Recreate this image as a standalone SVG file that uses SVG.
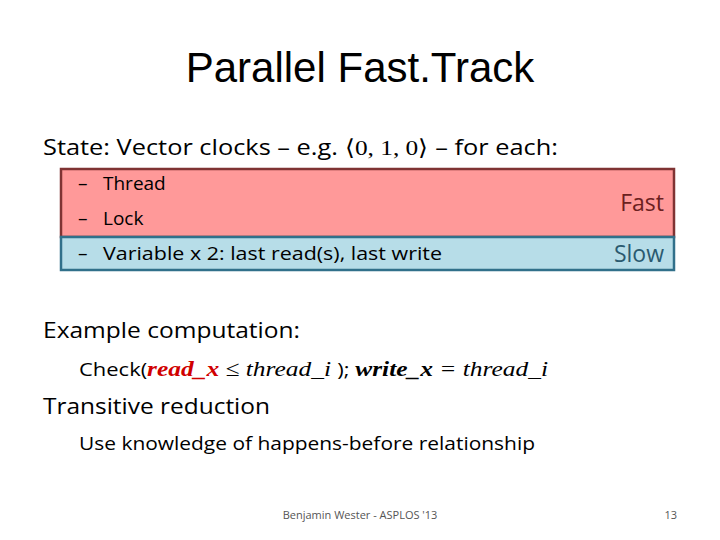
<svg xmlns="http://www.w3.org/2000/svg" width="720" height="540" viewBox="0 0 720 540">
<style>
text{font-family:"Open Sans","Liberation Sans",sans-serif;fill:#000}
.s{font-size:19px}.l{font-size:22px}.m{font-family:"Liberation Serif",serif;font-style:italic;font-size:22px}
</style>
<rect width="720" height="540" fill="#fff"/>
<text x="360" y="82" text-anchor="middle" font-size="42" style="font-family:'Liberation Sans',sans-serif">Parallel Fast.Track</text>
<text x="43" y="155" class="l" textLength="515" lengthAdjust="spacingAndGlyphs">State: Vector clocks – e.g. <tspan style="font-family:'Liberation Serif',serif">⟨0, 1, 0⟩</tspan> – for each:</text>
<g id="fast">
<rect x="61" y="169" width="613" height="68" fill="#ff9999" stroke="#7f3333" stroke-width="2.5"/>
<text x="78" y="190" class="s">–</text><text x="103" y="190" class="s">Thread</text>
<text x="78" y="225" class="s">–</text><text x="103" y="225" class="s">Lock</text>
<text x="664" y="211" text-anchor="end" style="font-size:23px;fill:#6b2020">Fast</text>
</g>
<g id="slow">
<rect x="61" y="237" width="613" height="33" fill="#b7dde8" stroke="#31708a" stroke-width="2.5"/>
<text x="78" y="260" class="s">–</text><text x="103" y="260" class="s" textLength="339" lengthAdjust="spacingAndGlyphs">Variable x 2:  last read(s), last write</text>
<text x="664" y="262" text-anchor="end" style="font-size:23px;fill:#2a5a70">Slow</text>
</g>
<text x="43" y="338" class="l" textLength="257" lengthAdjust="spacingAndGlyphs">Example computation:</text>
<text x="79" y="376" class="s" textLength="469" lengthAdjust="spacingAndGlyphs">Check(<tspan class="m" style="font-weight:bold;fill:#d00000">read_x</tspan><tspan class="m"> ≤ thread_i </tspan>);  <tspan class="m" style="font-weight:bold">write_x</tspan><tspan class="m"> = thread_i</tspan></text>
<text x="43" y="414" class="l" textLength="227" lengthAdjust="spacingAndGlyphs">Transitive reduction</text>
<text x="79" y="450" class="s" textLength="456" lengthAdjust="spacingAndGlyphs">Use knowledge of happens-before relationship</text>
<text x="360" y="519" text-anchor="middle" style="font-size:11px;fill:#555">Benjamin Wester - ASPLOS '13</text>
<text x="677" y="519" text-anchor="end" style="font-size:11px;fill:#555">13</text>
</svg>
